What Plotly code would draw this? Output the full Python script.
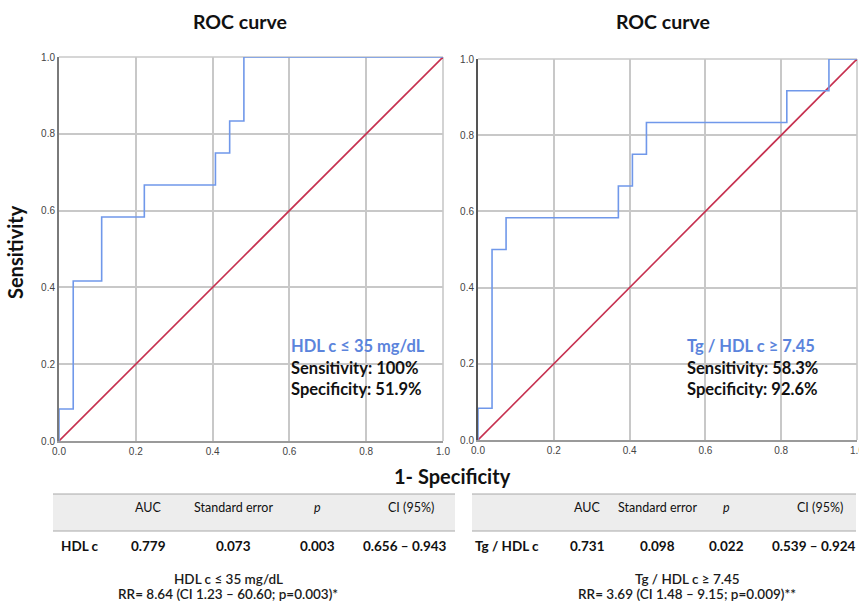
import plotly.graph_objects as go

W, H = 859, 601

# ---- data ----
hdl_fpr = [0, 0, 1/27, 1/27, 3/27, 3/27, 6/27, 6/27, 11/27, 11/27, 12/27, 12/27, 13/27, 13/27, 1.0]
hdl_tpr = [0, 1/12, 1/12, 5/12, 5/12, 7/12, 7/12, 8/12, 8/12, 9/12, 9/12, 10/12, 10/12, 1.0, 1.0]

tg_fpr = [0, 0, 1/27, 1/27, 2/27, 2/27, 10/27, 10/27, 11/27, 11/27, 12/27, 12/27, 22/27, 22/27, 25/27, 25/27, 1.0]
tg_tpr = [0, 1/12, 1/12, 6/12, 6/12, 7/12, 7/12, 8/12, 8/12, 9/12, 9/12, 10/12, 10/12, 11/12, 11/12, 1.0, 1.0]

ref_line = [0, 1]

tick_vals = [0.0, 0.2, 0.4, 0.6, 0.8, 1.0]
tick_text = ["0.0", "0.2", "0.4", "0.6", "0.8", "1.0"]

table_headers = ["AUC", "Standard error", "p", "CI (95%)"]
hdl_row = ["HDL c", "0.779", "0.073", "0.003", "0.656 – 0.943"]
tg_row = ["Tg / HDL c", "0.731", "0.098", "0.022", "0.539 – 0.924"]

hdl_label = ["HDL c ≤ 35 mg/dL", "Sensitivity: 100%", "Specificity: 51.9%"]
tg_label = ["Tg / HDL c ≥ 7.45", "Sensitivity: 58.3%", "Specificity: 92.6%"]
hdl_rr = ["HDL c ≤ 35 mg/dL", "RR= 8.64 (CI 1.23 – 60.60; p=0.003)*"]
tg_rr = ["Tg / HDL c ≥ 7.45", "RR= 3.69 (CI 1.48 – 9.15; p=0.009)**"]

# ---- styling ----
BLUE = "#7098ea"
BLUE_TXT = "#5b84dc"
RED = "#c6304f"
GRID = "#c8c8c8"
FONT = "Lato"


def px(x):
    return x / W


def py(y):
    return 1 - y / H


fig = go.Figure()

for fpr, tpr, xa, ya in [(hdl_fpr, hdl_tpr, "x", "y"), (tg_fpr, tg_tpr, "x2", "y2")]:
    fig.add_trace(go.Scatter(x=ref_line, y=ref_line, mode="lines", xaxis=xa, yaxis=ya,
                             line=dict(color=RED, width=1.6), cliponaxis=False, showlegend=False))
    fig.add_trace(go.Scatter(x=fpr, y=tpr, mode="lines", xaxis=xa, yaxis=ya,
                             line=dict(color=BLUE, width=1.6), cliponaxis=False, showlegend=False))

axis_common = dict(range=[0, 1], tickvals=tick_vals, ticktext=tick_text, showgrid=True,
                   gridcolor=GRID, gridwidth=1.6, zeroline=False, ticks="", automargin=False,
                   ticklabeloverflow="allow",
                   tickfont=dict(family="Liberation Sans", size=10, color="#444"), fixedrange=True)

doms = {
    "1": dict(x=[px(59), px(443)], y=[py(441), py(57)]),
    "2": dict(x=[px(478), px(857)], y=[py(440), py(59)]),
}

fig.update_layout(
    xaxis=dict(domain=doms["1"]["x"], anchor="y", showline=True, linecolor="#9a9a9a", linewidth=1.5, **axis_common),
    yaxis=dict(domain=doms["1"]["y"], anchor="x", showline=True, linecolor="#7a7a7a", linewidth=2, **axis_common),
    xaxis2=dict(domain=doms["2"]["x"], anchor="y2", showline=True, linecolor="#9a9a9a", linewidth=1.5, **axis_common),
    yaxis2=dict(domain=doms["2"]["y"], anchor="x2", showline=True, linecolor="#555", linewidth=2, **axis_common),
)

shapes = []
# light border at top/right of plot areas
for k in ["", "2"]:
    shapes.append(dict(type="line", xref=f"x{k} domain", yref=f"y{k} domain", x0=0, x1=1, y0=1, y1=1,
                       line=dict(color=GRID, width=1.6), layer="below"))
    shapes.append(dict(type="line", xref=f"x{k} domain", yref=f"y{k} domain", x0=1, x1=1, y0=0, y1=1,
                       line=dict(color=GRID, width=1.6), layer="below"))

# table header bands
for x0, x1 in [(53, 455), (472, 856)]:
    shapes.append(dict(type="rect", xref="paper", yref="paper", x0=px(x0), x1=px(x1), y0=py(531), y1=py(494),
                       fillcolor="#ededed", line=dict(width=0), layer="below"))
    for yy in (494, 531):
        shapes.append(dict(type="line", xref="paper", yref="paper", x0=px(x0), x1=px(x1), y0=py(yy), y1=py(yy),
                           line=dict(color="#a8a8a8", width=1)))

ann = []


def text(x, y, s, size, color="#111", bold=True, xanchor="center", italic=False, textangle=0, weight=None):
    st = s
    if italic:
        st = f"<i>{st}</i>"
    if bold:
        st = f"<b>{st}</b>"
    f = dict(family=FONT, size=size, color=color)
    if weight is not None:
        f["weight"] = weight
    ann.append(dict(x=px(x), y=py(y), xref="paper", yref="paper", text=st, showarrow=False,
                    xanchor=xanchor, yanchor="middle", textangle=textangle, font=f))


# titles
text(240, 22, "ROC curve", 19.5)
text(663, 22, "ROC curve", 19.5)
text(15, 252, "Sensitivity", 20, textangle=-90)
text(452, 476, "1- Specificity", 20)

# in-plot labels
for (x0, lab) in [(289, hdl_label), (685, tg_label)]:
    text(x0, 346, lab[0], 16.5, color=BLUE_TXT, xanchor="left")
    text(x0, 368, lab[1], 16.5, xanchor="left")
    text(x0, 389, lab[2], 16.5, xanchor="left")

# tables
hdr_y, row_y = 507, 546
left_cols = [148, 233, 317, 411]
right_cols = [587, 657, 726, 820]
for cols, row, name_x in [(left_cols, hdl_row, 80), (right_cols, tg_row, 507)]:
    for cx, h in zip(cols, table_headers):
        text(cx, hdr_y, h, 12.5, bold=False, italic=(h == "p"))
    text(name_x, row_y, row[0], 13.5)
    data_cols = cols[:3] + [cols[3] - 6]
    for cx, v in zip(data_cols, row[1:]):
        text(cx, row_y, v, 13.5)

for cx, lines in [(228, hdl_rr), (687, tg_rr)]:
    text(cx, 579, lines[0], 13.5, bold=False, weight=600, color="#1a1a1a")
    text(cx, 594, lines[1], 13.5, bold=False, weight=600, color="#1a1a1a")

fig.update_layout(width=W, height=H, margin=dict(l=0, r=0, t=0, b=0, autoexpand=False),
                  plot_bgcolor="white", paper_bgcolor="white", shapes=shapes, annotations=ann,
                  showlegend=False)

fig.write_html("out.html", config={"displayModeBar": False},
               post_script="document.body.style.margin='0';document.body.style.overflow='hidden';")
